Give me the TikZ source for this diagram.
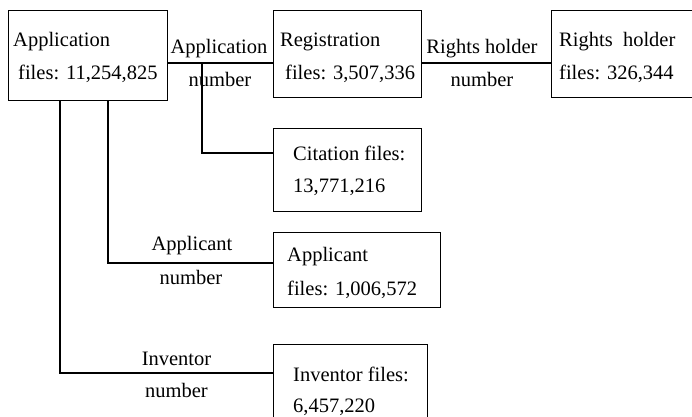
\documentclass[tikz,border=0pt]{standalone}
\usepackage{fontspec}
\setmainfont{Liberation Serif}
\begin{document}
\begin{tikzpicture}[x=1pt,y=-1pt,
  box/.style={draw, line width=1.1pt, inner sep=0pt, anchor=north west},
  conn/.style={line width=1.1pt},
  txt/.style={anchor=base west, inner sep=0pt, font=\fontsize{20.5}{24}\selectfont},
  lbl/.style={anchor=base, inner sep=0pt, font=\fontsize{20.5}{24}\selectfont}]
\useasboundingbox (0,0) rectangle (692,416);
\clip (0,0) rectangle (692,416);
% boxes
\node[box, minimum width=159pt, minimum height=90pt] (app) at (8,10) {};
\node[box, minimum width=148pt, minimum height=87pt] (reg) at (273,10) {};
\node[box, minimum width=160pt, minimum height=87pt] (rh) at (551,10) {};
\node[box, minimum width=148pt, minimum height=83pt] (cit) at (273,128) {};
\node[box, minimum width=167pt, minimum height=75pt] (apl) at (273,232) {};
\node[box, minimum width=154pt, minimum height=90pt] (inv) at (273,344) {};
% box texts
\node[txt] (t1) at (13,46) {Application};
\node[txt] (t2) at (18,79) {files: 11,254,825};
\node[txt] (t3) at (280,46) {Registration};
\node[txt] (t4) at (285,79) {files: 3,507,336};
\node[txt] (t5) at (559,46) {Rights\ \ holder};
\node[txt] (t6) at (559,79) {files: 326,344};
\node[txt] (t7) at (293,160) {Citation files:};
\node[txt] (t8) at (293,192) {13,771,216};
\node[txt] (t9) at (287,261) {Applicant};
\node[txt] (t10) at (287,295) {files: 1,006,572};
\node[txt] (t11) at (293,381) {Inventor files:};
\node[txt] (t12) at (293,412) {6,457,220};
% connectors
\coordinate (j1) at (202,63);
\draw[conn] (app.east |- j1) -- (reg.west |- j1);
\draw[conn] (reg.east |- j1) -- (rh.west |- j1);
\draw[conn] (j1) |- (cit.west |- 0,153);
\draw[conn] (app.south -| 108,0) |- (apl.west |- 0,263);
\draw[conn] (app.south -| 60,0) |- (inv.west |- 0,373);
% connector labels
\node[lbl] (l1) at (219,53) {Application};
\node[lbl] (l2) at (220,86) {number};
\node[lbl] (l3) at (482,53) {Rights holder};
\node[lbl] (l4) at (482,86) {number};
\node[lbl] (l5) at (192,250) {Applicant};
\node[lbl] (l6) at (191,284) {number};
\node[lbl] (l7) at (176.5,365) {Inventor};
\node[lbl] (l8) at (176.5,397) {number};
\end{tikzpicture}
\end{document}
